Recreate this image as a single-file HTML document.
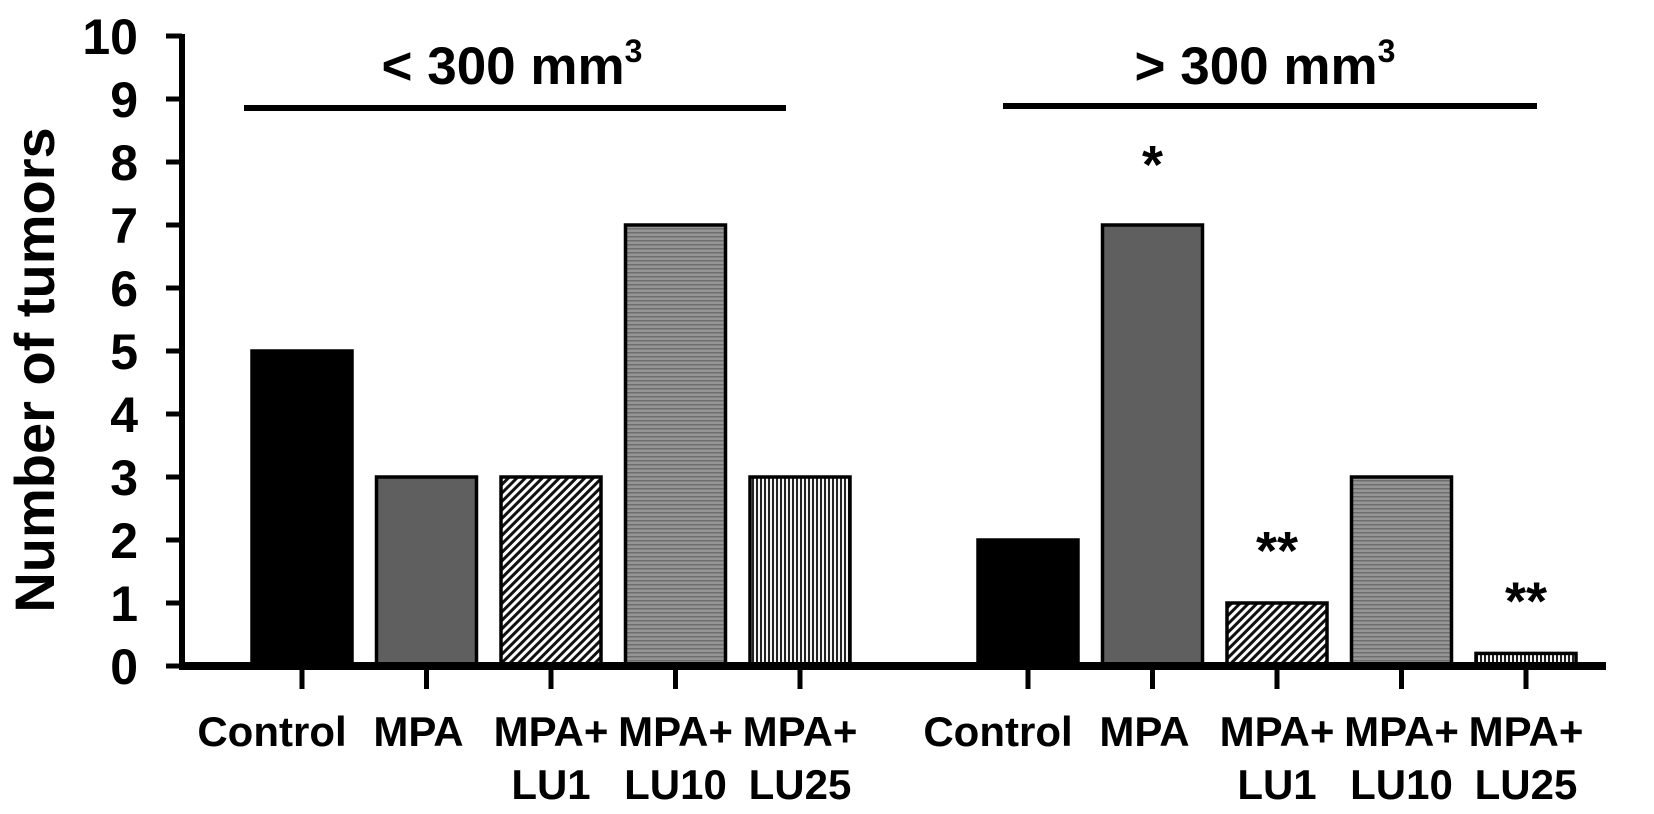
<!DOCTYPE html>
<html><head><meta charset="utf-8"><style>
html,body{margin:0;padding:0;background:#fff;}
svg{display:block;font-family:"Liberation Sans",Arial,sans-serif;font-weight:bold;}
</style></head><body>
<svg id="chart" width="1654" height="814" viewBox="0 0 1654 814" xmlns="http://www.w3.org/2000/svg">
<defs>
<pattern id="diag" patternUnits="userSpaceOnUse" width="6" height="6" patternTransform="rotate(45)">
<rect width="6" height="6" fill="#fff"/><rect width="3" height="6" fill="#111"/></pattern>
<pattern id="horiz" patternUnits="userSpaceOnUse" width="4" height="4">
<rect width="4" height="4" fill="#959595"/><rect width="4" height="1.5" fill="#6e6e6e"/></pattern>
<pattern id="vert" patternUnits="userSpaceOnUse" width="4" height="4">
<rect width="4" height="4" fill="#f4f4f4"/><rect width="2" height="4" fill="#222"/></pattern>
</defs>
<g id="bars"></g>
<g id="axes"></g>
<text transform="translate(54,370) rotate(-90)" text-anchor="middle" font-size="56">Number of tumors</text>
<text x="512" y="84" text-anchor="middle" font-size="53">&lt; 300 mm<tspan font-size="32" dy="-22">3</tspan></text>
<line x1="244" y1="108" x2="786" y2="108" stroke="#000" stroke-width="6"/>
<text x="1265" y="84" text-anchor="middle" font-size="53">&gt; 300 mm<tspan font-size="32" dy="-22">3</tspan></text>
<line x1="1003" y1="106" x2="1537" y2="106" stroke="#000" stroke-width="6"/>
</svg>
<script>
const categories = ["Control","MPA","MPA+LU1","MPA+LU10","MPA+LU25"];
const smallValues = [5,3,3,7,3];
const largeValues = [2,7,1,3,0.2];
const largeSignif = ["","*","**","","**"];
const yTicks = [0,1,2,3,4,5,6,7,8,9,10];
const labelLine1 = ["Control","MPA","MPA+","MPA+","MPA+"];
const labelLine2 = ["","","LU1","LU10","LU25"];

const NS="http://www.w3.org/2000/svg";
const fills=["#000","#5f5f5f","url(#diag)","url(#horiz)","url(#vert)"];
const labelShift=[-30,-8,0,0,0];
const y0=666, unit=63, axisX=182;
function yScale(v){return y0-v*unit;}
const groupStart=[302,1028], pitch=124.5, barW=100;
function xScale(g,i){return groupStart[g]+i*pitch;}
function mk(tag,attrs,parent){const e=document.createElementNS(NS,tag);for(const k in attrs)e.setAttribute(k,attrs[k]);parent.appendChild(e);return e;}
const bars=document.getElementById('bars'), axes=document.getElementById('axes');
[smallValues,largeValues].forEach((vals,g)=>{
  vals.forEach((v,i)=>{
    const cx=xScale(g,i);
    const r=mk('rect',{x:cx-barW/2,y:yScale(v),width:barW,height:y0-yScale(v),fill:fills[i],stroke:'#000','stroke-width':3.5},bars);
    
    
    const t=mk('line',{x1:cx,y1:y0,x2:cx,y2:689,stroke:'#000','stroke-width':5},axes);
    
    
    const l1=mk('text',{x:cx+labelShift[i],y:746,'text-anchor':'middle','font-size':42},axes);
    l1.textContent=labelLine1[i];
    
    
    if(labelLine2[i]){
      const l2=mk('text',{x:cx,y:799,'text-anchor':'middle','font-size':42},axes);
      l2.textContent=labelLine2[i];
      
      
    }
    if(g===1 && largeSignif[i]){
      const s=mk('text',{x:cx,y:yScale(v)-42+(largeSignif[i]==='*'?0:8),'text-anchor':'middle','font-size':54},axes);
      s.textContent=largeSignif[i];
      
      
    }
  });
});
yTicks.forEach(v=>{
  const t=mk('line',{x1:166,y1:yScale(v),x2:axisX,y2:yScale(v),stroke:'#000','stroke-width':5},axes);
  
  
  const l=mk('text',{x:138,y:yScale(v)+18,'text-anchor':'end','font-size':50},axes);
  l.textContent=v;
  
  
});
const ya=mk('line',{x1:axisX,y1:yScale(10)-2,x2:axisX,y2:y0+4,stroke:'#000','stroke-width':6},axes);


const xa=mk('line',{x1:axisX-3,y1:y0,x2:1606,y2:y0,stroke:'#000','stroke-width':8},axes);


</script>
</body></html>
